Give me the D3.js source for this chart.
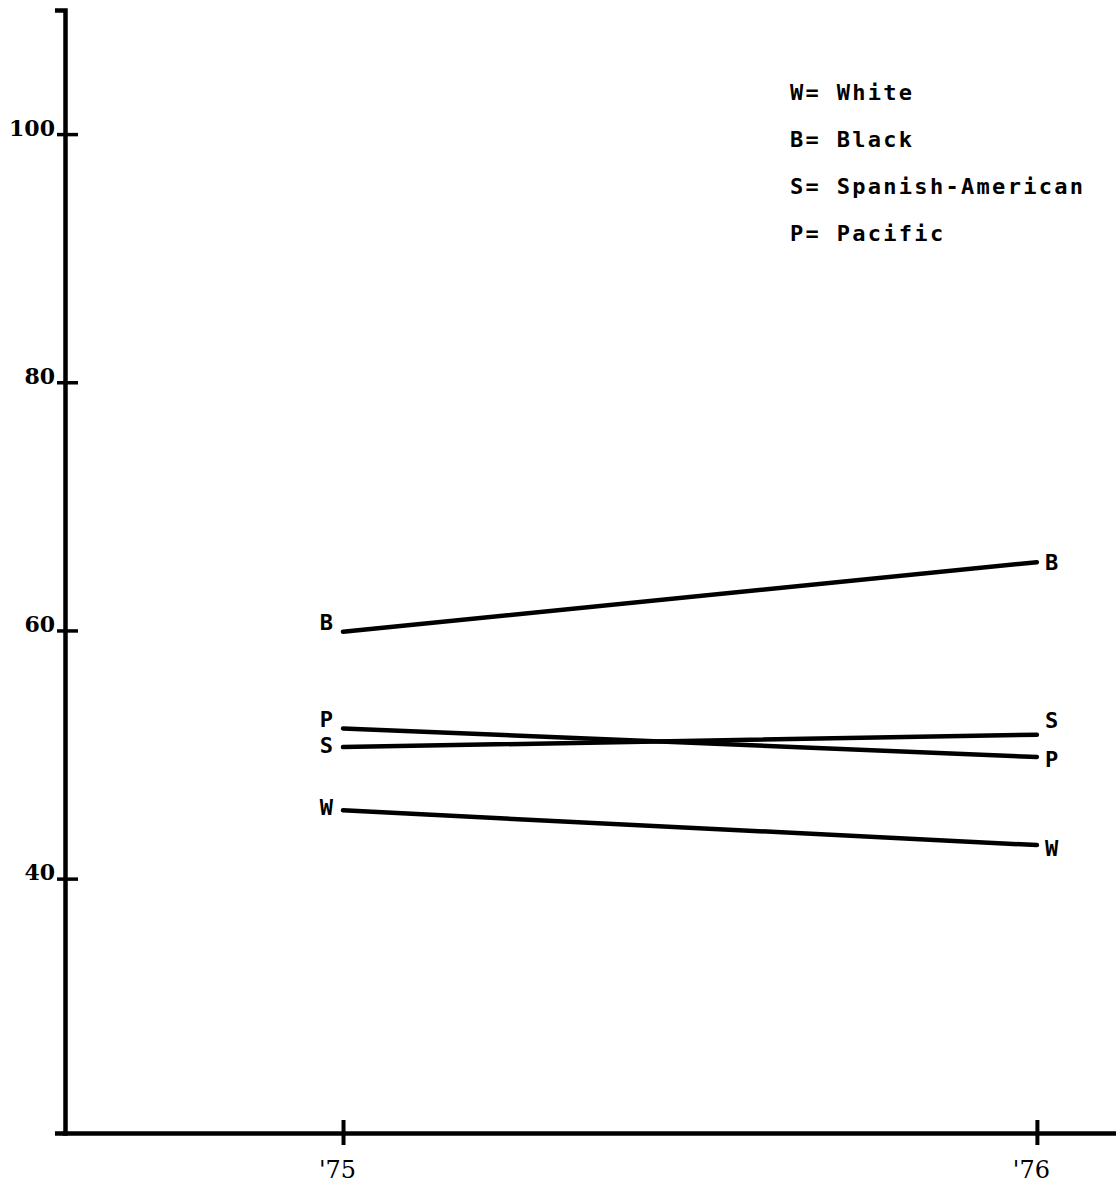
<!DOCTYPE html>
<html>
<head>
<meta charset="utf-8">
<script src="https://cdn.jsdelivr.net/npm/d3@7"></script>
<style>
  body { margin: 0; background: #fff; }
  svg { display: block; }
</style>
</head>
<body>
<div id="chart"></div>
<script>
// values
var years = [1975, 1976];
var codes = ["W", "B", "S", "P"];
var white = [45.5, 42.7];
var black = [59.9, 65.5];
var spanish = [50.6, 51.6];
var pacific = [52.1, 49.8];
var yTicks = [40, 60, 80, 100];
var legendText = ["W= White", "B= Black", "S= Spanish-American", "P= Pacific"];

var width = 1116, height = 1184;

var series = [
    {code: "W", values: white},
    {code: "B", values: black},
    {code: "S", values: spanish},
    {code: "P", values: pacific}
];

// little baseline nudges so the letters sit like the typed ones
var labelNudge = {
    left:  {W: 5, B: -2, S: 6, P: -1},
    right: {W: 11, B: 8, S: -7, P: 10}
};

var svg = d3.select("#chart").append("svg")
    .attr("width", width)
    .attr("height", height);

svg.append("rect")
    .attr("width", width)
    .attr("height", height)
    .attr("fill", "#fff");

var axisX = 65, axisY = 1133;

var yScale = d3.scaleLinear()
    .domain([19.5, 110])
    .range([axisY, 10]);

var xScale = d3.scaleLinear()
    .domain([1974.595, 1976.114])
    .range([62, width]);

// y axis
var yAxis = d3.axisLeft(yScale)
    .tickValues(yTicks)
    .tickSizeOuter(0)
    .tickSize(10);

var gy = svg.append("g")
    .attr("transform", "translate(" + axisX + ",0)")
    .call(yAxis);

gy.select(".domain")
    .attr("stroke", "#000")
    .attr("stroke-width", 4.5);
gy.selectAll(".tick line")
    .attr("x1", -8)
    .attr("x2", 13)
    .attr("stroke", "#000")
    .attr("stroke-width", 3.5);
gy.selectAll(".tick text")
    .attr("x", -10)
    .attr("dy", "0.05em")
    .attr("fill", "#000")
    .style("font-family", "'DejaVu Serif', serif")
    .style("font-weight", "bold")
    .style("font-size", "22px");

// x axis
var xAxis = d3.axisBottom(xScale)
    .tickValues(years)
    .tickSizeOuter(0)
    .tickFormat(function(d){ return "'" + String(d).slice(2); });

var gx = svg.append("g")
    .attr("transform", "translate(0," + axisY + ")")
    .call(xAxis);

gx.select(".domain")
    .attr("stroke", "#000")
    .attr("stroke-width", 4.5);
gx.selectAll(".tick line")
    .attr("y1", -13)
    .attr("y2", 12)
    .attr("stroke", "#000")
    .attr("stroke-width", 4);
gx.selectAll(".tick text")
    .attr("y", 45)
    .attr("dy", 0)
    .attr("dx", -6)
    .attr("fill", "#000")
    .style("font-family", "'DejaVu Serif', serif")
    .style("font-size", "24px");

// the four lines
var line = d3.line()
    .x(function(d, i){ return xScale(years[i]); })
    .y(function(d){ return yScale(d); });

svg.append("g")
    .selectAll("path")
    .data(series)
    .enter()
    .append("path")
    .attr("d", function(d){ return line(d.values); })
    .attr("fill", "none")
    .attr("stroke", "#000")
    .attr("stroke-width", 4.5)
    .attr("stroke-linecap", "round");

var labelFont = "'DejaVu Sans Mono', monospace";

// letters at the start of each line
svg.append("g")
    .selectAll("text")
    .data(series)
    .enter()
    .append("text")
    .attr("x", xScale(years[0]) - 10)
    .attr("y", function(d){ return yScale(d.values[0]) + labelNudge.left[d.code]; })
    .attr("text-anchor", "end")
    .style("font-family", labelFont)
    .style("font-weight", "bold")
    .style("font-size", "22px")
    .text(function(d){ return d.code; });

// letters at the end of each line
svg.append("g")
    .selectAll("text")
    .data(series)
    .enter()
    .append("text")
    .attr("x", xScale(years[1]) + 8)
    .attr("y", function(d){ return yScale(d.values[1]) + labelNudge.right[d.code]; })
    .style("font-family", labelFont)
    .style("font-weight", "bold")
    .style("font-size", "22px")
    .text(function(d){ return d.code; });

// key
svg.append("g")
    .attr("transform", "translate(790,100)")
    .selectAll("text")
    .data(legendText)
    .enter()
    .append("text")
    .attr("y", function(d, i){ return i * 47; })
    .style("font-family", labelFont)
    .style("font-weight", "bold")
    .style("font-size", "22px")
    .style("letter-spacing", "2.3px")
    .text(function(d){ return d; });
</script>
</body>
</html>
